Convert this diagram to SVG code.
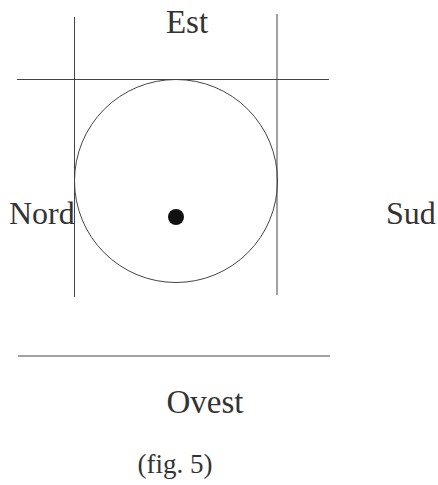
<svg xmlns="http://www.w3.org/2000/svg" width="438" height="485" viewBox="0 0 438 485">
<style>
.ln{stroke:#444;stroke-width:1;fill:none}
.lbl{font-family:"Liberation Serif","Times New Roman",serif;fill:#333}
</style>
<rect width="438" height="485" fill="#fff"/>
<g id="connectors">
<line class="ln" x1="74.5" y1="17" x2="74.5" y2="297"/>
<line class="ln" x1="277" y1="14" x2="277" y2="295"/>
<line class="ln" x1="17" y1="79.5" x2="329" y2="79.5"/>
<line class="ln" x1="18" y1="356" x2="330" y2="356"/>
</g>
<g id="circle"><circle class="ln" cx="176" cy="181" r="101.5"/></g>
<g id="dot"><circle cx="176" cy="217" r="8" fill="#111"/></g>
<g id="est"><text class="lbl" x="187" y="33" font-size="33" text-anchor="middle">Est</text></g>
<g id="nord"><text class="lbl" x="9" y="224" font-size="32">Nord</text></g>
<g id="sud"><text class="lbl" x="386" y="224" font-size="32">Sud</text></g>
<g id="ovest"><text class="lbl" x="205" y="413" font-size="33" text-anchor="middle">Ovest</text></g>
<g id="caption"><text class="lbl" x="175" y="473" font-size="27" text-anchor="middle">(fig. 5)</text></g>
</svg>
